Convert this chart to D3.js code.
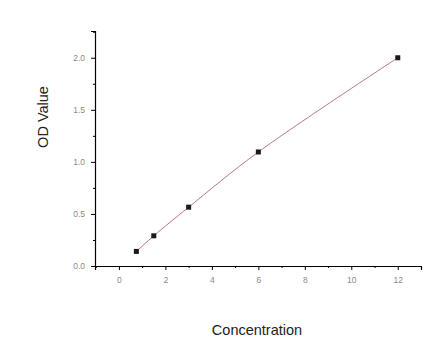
<!DOCTYPE html>
<html><head><meta charset="utf-8">
<script src="https://cdn.jsdelivr.net/npm/d3@7"></script>
<style>body{margin:0;background:#fff}svg{display:block}</style>
</head><body>
<svg id="c" width="446" height="357"></svg>
<script>
const concentration = [0.75, 1.5, 3, 6, 12];
const odValue = [0.14, 0.29, 0.565, 1.095, 2.0];
const xTicks = [0, 2, 4, 6, 8, 10, 12];
const xMinor = [-1, 1, 3, 5, 7, 9, 11, 13];
const yTicks = [0.0, 0.5, 1.0, 1.5, 2.0];
const yMinor = [0.25, 0.75, 1.25, 1.75, 2.25];

const svg = d3.select("#c");
const x = d3.scaleLinear().domain([-1.03, 13]).range([95, 421]);
const y = d3.scaleLinear().domain([0, 2.257]).range([266, 31]);

const data = concentration.map((c, i) => ({c, v: odValue[i]}));

// x axis
const gx = svg.append("g").attr("transform", "translate(0,266)");
gx.call(d3.axisBottom(x).tickValues(xTicks).tickSize(4).tickPadding(7).tickFormat(d3.format("d")));
gx.append("g").call(d3.axisBottom(x).tickValues(xMinor).tickSize(2).tickFormat(""));
gx.selectAll(".domain").attr("stroke", "#000").attr("stroke-width", 1.2);
gx.selectAll(".domain").filter((d, i) => i > 0).remove();

// y axis
const gy = svg.append("g").attr("transform", "translate(95,0)");
gy.call(d3.axisLeft(y).tickValues(yTicks).tickSize(4).tickPadding(6).tickFormat(d3.format(".1f")));
gy.append("g").call(d3.axisLeft(y).tickValues(yMinor).tickSize(2).tickFormat(""));
gy.selectAll(".domain").attr("stroke", "#000").attr("stroke-width", 1.2);

svg.selectAll(".tick line").attr("stroke", "#000");
svg.selectAll(".tick text").attr("fill", "#8a8a8a")
  .attr("font-family", "Liberation Sans, Arial, sans-serif").attr("font-size", 8.5);
svg.selectAll("g > g > .domain").remove();

// curve
const line = d3.line().x(d => x(d.c)).y(d => y(d.v)).curve(d3.curveCatmullRom.alpha(0.5));
svg.append("path").datum(data).attr("d", line)
  .attr("fill", "none").attr("stroke", "#b87886").attr("stroke-width", 1);

// markers
svg.selectAll("rect.pt").data(data).enter().append("rect").attr("class", "pt")
  .attr("x", d => x(d.c) - 2.5).attr("y", d => y(d.v) - 2.5)
  .attr("width", 5).attr("height", 5).attr("fill", "#1a1a1a");

// titles
svg.append("text").attr("x", 257).attr("y", 335)
  .attr("text-anchor", "middle").attr("font-family", "Liberation Sans, Arial, sans-serif")
  .attr("font-size", 14.5).attr("fill", "#222").text("Concentration");
svg.append("text").attr("transform", "translate(48,117) rotate(-90)")
  .attr("text-anchor", "middle").attr("font-family", "Liberation Sans, Arial, sans-serif")
  .attr("font-size", 14.5).attr("fill", "#222").text("OD Value");
</script>
</body></html>
